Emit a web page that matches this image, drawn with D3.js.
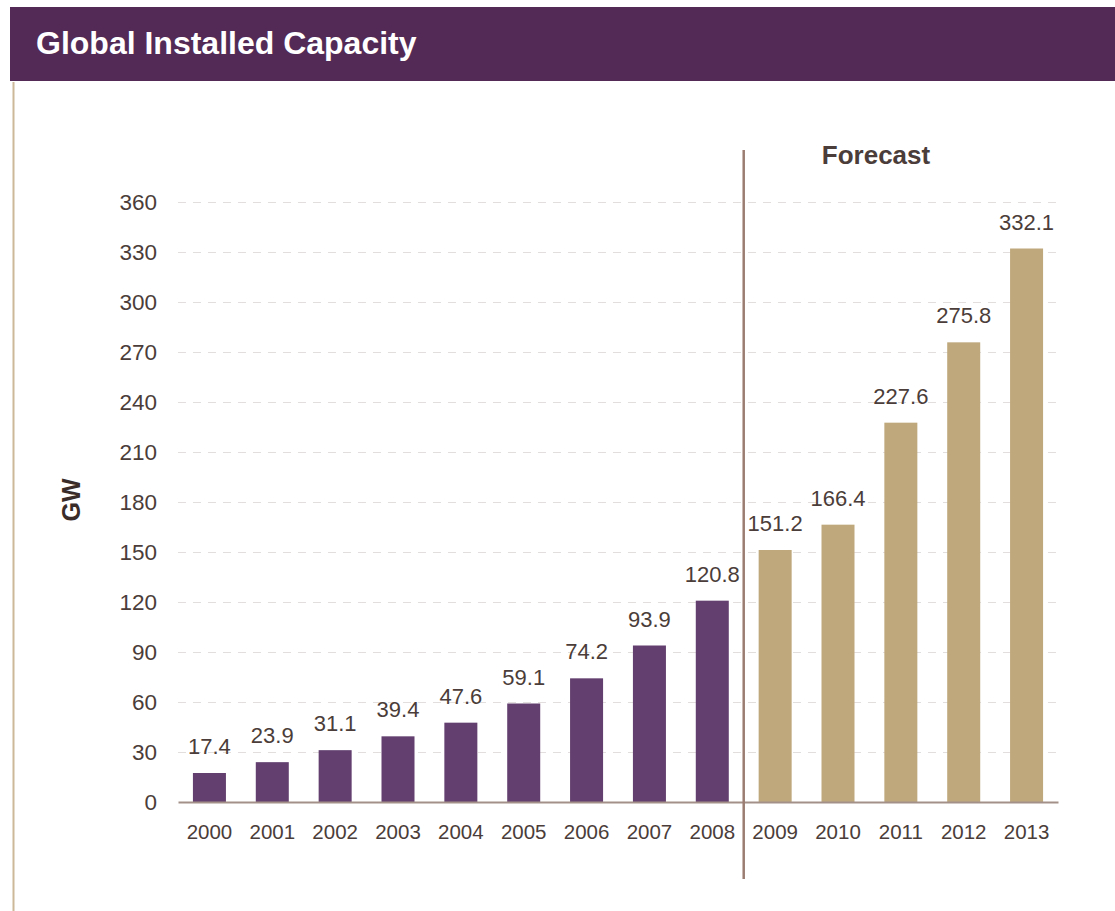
<!DOCTYPE html>
<html><head><meta charset="utf-8">
<script src="https://cdn.jsdelivr.net/npm/d3@7"></script>
<style>body{margin:0;background:#fff;}svg{display:block;font-family:"Liberation Sans",Arial,sans-serif;}</style>
</head><body>
<svg id="c" width="1115" height="911"></svg>
<script>
const years = ["2000","2001","2002","2003","2004","2005","2006","2007","2008","2009","2010","2011","2012","2013"];
const values = [17.4,23.9,31.1,39.4,47.6,59.1,74.2,93.9,120.8,151.2,166.4,227.6,275.8,332.1];
const forecast = [false,false,false,false,false,false,false,false,false,true,true,true,true,true];
const yTicks = [0,30,60,90,120,150,180,210,240,270,300,330,360];
const title = "Global Installed Capacity";
const yLabel = "GW";
const forecastLabel = "Forecast";

(function(){
const svg = d3.select("#c");
const FF = "Liberation Sans, Arial, sans-serif";
const pL = 178, pR = 1058, pT = 202, pB = 802;
const x = d3.scaleBand().domain(years).range([pL, pR]).paddingInner(0.475).paddingOuter(0.2375);
const y = d3.scaleLinear().domain([0, 360]).range([pB, pT]);
const textCol = "#4b3d39";

// header
svg.append("rect").attr("x", 10).attr("y", 7).attr("width", 1105).attr("height", 74).attr("fill", "#532a56");
svg.append("text").attr("x", 36).attr("y", 54).attr("fill", "#fff").attr("font-size", 32).attr("font-weight", "bold")
  .attr("font-family", FF).text(title);
// left rule
svg.append("line").attr("x1", 13.5).attr("x2", 13.5).attr("y1", 82).attr("y2", 911).attr("stroke", "#cdb999").attr("stroke-width", 2);

// gridlines
svg.append("g").selectAll("line").data(yTicks.filter(d => d > 0)).join("line")
  .attr("x1", pL).attr("x2", pR).attr("y1", d => Math.round(y(d)) + 0.5).attr("y2", d => Math.round(y(d)) + 0.5)
  .attr("stroke", "#e2dede").attr("stroke-width", 1).attr("stroke-dasharray", "8,7");

// y axis labels
const yAxis = d3.axisLeft(y).tickValues(yTicks).tickSize(0).tickPadding(0);
const ya = svg.append("g").attr("transform", `translate(157,0)`).call(yAxis);
ya.select(".domain").remove();
ya.selectAll("text").attr("font-size", 22.5).attr("fill", textCol).attr("font-family", FF);

// bars
svg.append("g").selectAll("rect").data(years).join("rect")
  .attr("x", d => x(d)).attr("width", x.bandwidth())
  .attr("y", (d, i) => y(values[i])).attr("height", (d, i) => pB - y(values[i]))
  .attr("fill", (d, i) => forecast[i] ? "#bfa87c" : "#623f6e");

// value labels
svg.append("g").selectAll("text").data(years).join("text")
  .attr("x", d => x(d) + x.bandwidth() / 2).attr("y", (d, i) => y(values[i]) - 19)
  .attr("text-anchor", "middle").attr("font-size", 22).attr("fill", textCol).attr("font-family", FF)
  .text((d, i) => values[i].toFixed(1));

// x axis
const xAxis = d3.axisBottom(x).tickSize(0).tickPadding(0);
const xa = svg.append("g").attr("transform", `translate(0,${pB})`).call(xAxis);
xa.select(".domain").attr("stroke", "#a39189").attr("stroke-width", 2);
xa.selectAll("text").attr("font-size", 20.5).attr("fill", textCol).attr("dy", null).attr("y", 37).attr("font-family", FF);

// divider
const divX = x("2009") - x.step() * x.paddingInner() / 2;
svg.append("line").attr("x1", divX).attr("x2", divX).attr("y1", 150).attr("y2", 879).attr("stroke", "#9c7d72").attr("stroke-width", 2.5);
svg.append("text").attr("x", 876).attr("y", 164).attr("text-anchor", "middle").attr("font-size", 26).attr("font-weight", "bold")
  .attr("fill", textCol).attr("font-family", FF).text(forecastLabel);

// y label
svg.append("text").attr("transform", "translate(80,500) rotate(-90)").attr("text-anchor", "middle")
  .attr("font-size", 25).attr("font-weight", "bold").attr("fill", "#3a2c28").attr("font-family", FF).text(yLabel);
})();
</script>
</body></html>
